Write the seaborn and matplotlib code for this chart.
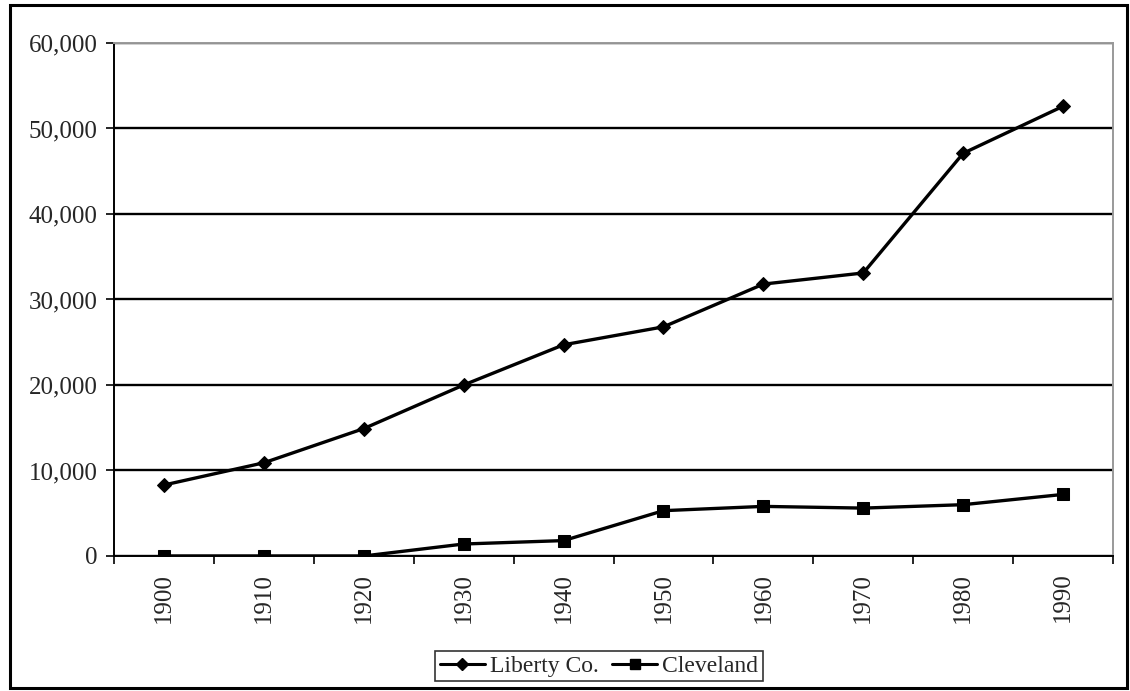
"""Population of Liberty Co. and Cleveland, 1900-1990."""

import matplotlib.pyplot as plt
import matplotlib.ticker as mticker
import pandas as pd
import seaborn as sns
from matplotlib.patches import Rectangle

years = [1900, 1910, 1920, 1930, 1940, 1950, 1960, 1970, 1980, 1990]
liberty_co = [8300, 10900, 14900, 20000, 24700, 26800, 31800, 33100, 47100, 52600]
cleveland = [0, 0, 0, 1400, 1800, 5300, 5800, 5600, 6000, 7200]
series_names = ["Liberty Co.", "Cleveland"]

df = pd.DataFrame(
    {
        "year": years * 2,
        "population": liberty_co + cleveland,
        "place": [series_names[0]] * len(years) + [series_names[1]] * len(years),
    }
)

sns.set_style("white")
plt.rcParams["font.family"] = ["Liberation Serif", "DejaVu Serif"]

fig = plt.figure(figsize=(11.3, 6.91), dpi=100)
ax = fig.add_axes([0.1009, 0.1954, 0.8841, 0.7424])

sns.lineplot(
    data=df,
    x="year",
    y="population",
    hue="place",
    style="place",
    palette={n: "black" for n in series_names},
    markers={"Liberty Co.": "D", "Cleveland": "s"},
    dashes=False,
    linewidth=2.4,
    markersize=7,
    markeredgecolor="black",
    legend=False,
    ax=ax,
)
# diamonds in the source are a bit narrower than squares
for line, ms in zip(ax.lines, [7, 8.5]):
    line.set_markersize(ms)

ax.set_xlim(1895, 1995)
ax.set_ylim(0, 60000)
ax.set_xlabel("")
ax.set_ylabel("")

ax.yaxis.set_major_locator(mticker.MultipleLocator(10000))
ax.yaxis.set_major_formatter(mticker.StrMethodFormatter("{x:,.0f}"))
ax.set_xticks(years)
ax.set_xticklabels([str(y) for y in years], rotation=90)
ax.set_xticks([1895 + 10 * i for i in range(11)], minor=True)

ax.tick_params(axis="x", which="major", length=0, pad=12, labelsize=18)
ax.tick_params(axis="x", which="minor", length=6, width=1.2, color="black", direction="out")
ax.tick_params(axis="y", length=6, width=1.2, color="black", direction="out", pad=6, labelsize=18)
ax.xaxis.set_ticks_position("bottom")
ax.yaxis.set_ticks_position("left")

ax.grid(axis="y", color="black", linewidth=1.7)
ax.grid(axis="x", visible=False)
ax.set_axisbelow(True)

for side in ["left", "bottom"]:
    ax.spines[side].set_color("black")
    ax.spines[side].set_linewidth(1.4)
for side in ["top", "right"]:
    ax.spines[side].set_color("#999999")
    ax.spines[side].set_linewidth(1.4)

handles = [
    plt.Line2D([], [], color="black", lw=2.2, marker="D", markersize=6),
    plt.Line2D([], [], color="black", lw=2.2, marker="s", markersize=7),
]
leg = fig.legend(
    handles,
    series_names,
    loc="center",
    bbox_to_anchor=(599 / 1130, 1 - 666 / 691),
    ncol=2,
    fontsize=17,
    frameon=True,
    fancybox=False,
    handlelength=1.9,
    handletextpad=0.2,
    columnspacing=0.6,
    borderpad=0.2,
    borderaxespad=0,
)
leg.get_frame().set_edgecolor("black")
leg.get_frame().set_linewidth(1.2)

fig.patches.append(
    Rectangle(
        (10 / 1130, 3 / 691),
        1117 / 1130,
        683 / 691,
        transform=fig.transFigure,
        fill=False,
        edgecolor="black",
        linewidth=2.2,
    )
)

fig.savefig("out.png", dpi=100)
plt.close(fig)
